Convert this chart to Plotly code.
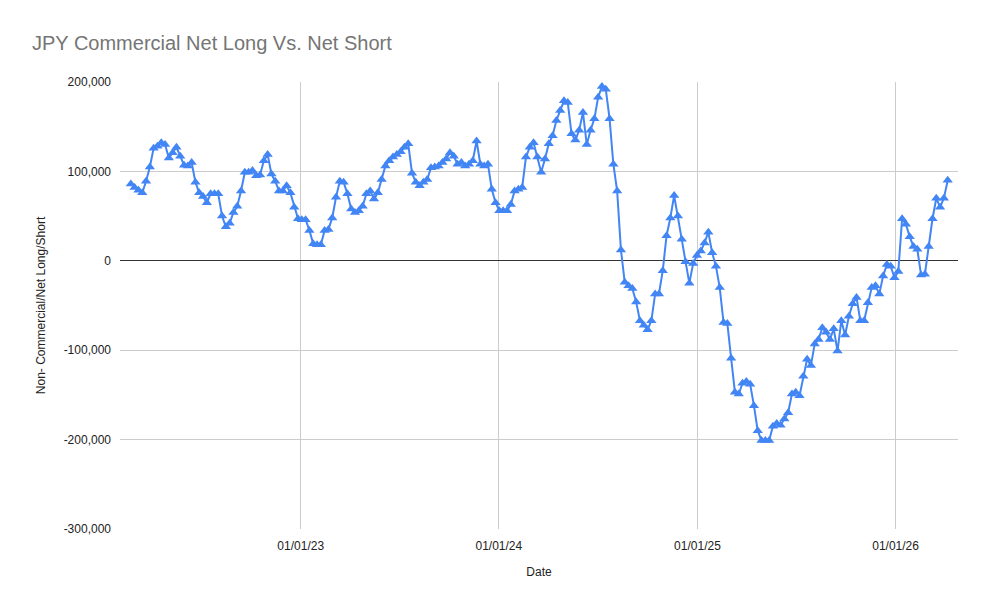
import pandas as pd
import plotly.graph_objects as go

# Weekly non-commercial net positions (contracts)
net_positions = [
    86000, 82000, 79000, 76000, 89000, 105000, 126000, 128000, 132000, 130000, 115000, 121000, 127000,
    117000, 107000, 106000, 110000, 88000, 76000, 72000, 65000, 75000, 75000, 75000, 50000, 38000,
    42000, 54000, 61000, 78000, 99000, 99000, 101000, 95000, 96000, 112000, 119000, 97000, 89000, 78000,
    78000, 84000, 76000, 60000, 47000, 46000, 46000, 34000, 19000, 18000, 18000, 34000, 35000, 48000,
    71000, 89000, 88000, 75000, 58000, 54000, 56000, 61000, 75000, 78000, 69000, 76000, 91000, 106000,
    112000, 116000, 119000, 122000, 127000, 131000, 98000, 88000, 84000, 88000, 91000, 104000, 105000,
    106000, 110000, 114000, 121000, 117000, 108000, 110000, 106000, 108000, 112000, 134000, 108000, 106000,
    108000, 80000, 65000, 56000, 56000, 56000, 63000, 78000, 80000, 82000, 116000, 127000, 132000, 116000, 99000,
    114000, 131000, 140000, 157000, 168000, 179000, 177000, 142000, 135000, 146000, 166000, 130000, 146000,
    159000, 183000, 195000, 192000, 159000, 108000, 78000, 12000, -24000, -28000, -31000, -46000, -67000,
    -72000, -77000,
    -67000, -37000, -37000, -11000, 28000, 48000, 73000, 50000, 24000, -1000, -25000, -3000, 6000, 11000,
    20000, 32000, 9000, -6000, -30000, -69000, -70000, -109000, -147000, -149000, -137000, -135000, -138000,
    -162000, -190000, -201000, -201000, -201000, -185000, -182000, -184000, -177000, -170000, -149000,
    -147000, -151000, -129000, -110000, -117000, -93000, -88000, -75000, -80000, -88000, -76000, -101000,
    -67000, -83000, -62000, -48000, -41000,
    -67000, -67000, -47000, -30000, -28000, -37000, -17000, -4000, -6000, -19000, -12000, 47000, 41000,
    27000, 16000, 13000, -16000, -15000, 16000, 47000, 70000, 60000, 70000, 90000,
]
last_report_date = "2026-04-07"
report_dates = pd.date_range(end=last_report_date, periods=len(net_positions), freq="7D")

x_tick_dates = ["2023-01-01", "2024-01-01", "2025-01-01", "2026-01-01"]
x_tick_labels = ["01/01/23", "01/01/24", "01/01/25", "01/01/26"]
y_tick_values = [-300000, -200000, -100000, 0, 100000, 200000]
y_tick_labels = ["-300,000", "-200,000", "-100,000", "0", "100,000", "200,000"]

FONT = "Liberation Sans, Arial, sans-serif"
BLUE = "#4285F4"

fig = go.Figure()
fig.add_trace(go.Scatter(
    x=report_dates, y=net_positions, mode="lines+markers",
    line=dict(color=BLUE, width=2),
    marker=dict(symbol="triangle-up", size=9, color=BLUE),
    showlegend=False,
))

fig.update_layout(
    width=988, height=612,
    paper_bgcolor="white", plot_bgcolor="white",
    margin=dict(l=120, r=30, t=82, b=83),
    font=dict(family=FONT, size=12, color="#222222"),
    title=dict(text="JPY Commercial Net Long Vs. Net Short",
               font=dict(family=FONT, size=20, color="#757575"),
               x=32/988, xanchor="left", xref="container",
               y=1-43/612, yanchor="middle", yref="container"),
    xaxis=dict(
        range=["2022-02-02", "2026-04-26"],
        tickvals=x_tick_dates, ticktext=x_tick_labels,
        showgrid=True, gridcolor="#cccccc", gridwidth=1,
        zeroline=False, showline=False, ticks="", automargin=False,
        ticklabelstandoff=8,
        tickfont=dict(size=12, color="#222222"),
        title=dict(text="Date", font=dict(size=12, color="#222222")),
    ),
    yaxis=dict(
        range=[-300000, 200000],
        tickvals=y_tick_values, ticktext=y_tick_labels,
        showgrid=True, gridcolor="#cccccc", gridwidth=1,
        zeroline=True, zerolinecolor="#333333", zerolinewidth=1,
        showline=False, ticks="", automargin=False,
        ticklabelstandoff=8,
        tickfont=dict(size=12, color="#222222"),
        title=dict(text="Non- Commercial/Net Long/Short", font=dict(size=12, color="#222222")),
    ),
)

fig.write_html("out.html", config={"displayModeBar": False},
               post_script="document.body.style.margin='0';document.body.style.overflow='hidden';")
